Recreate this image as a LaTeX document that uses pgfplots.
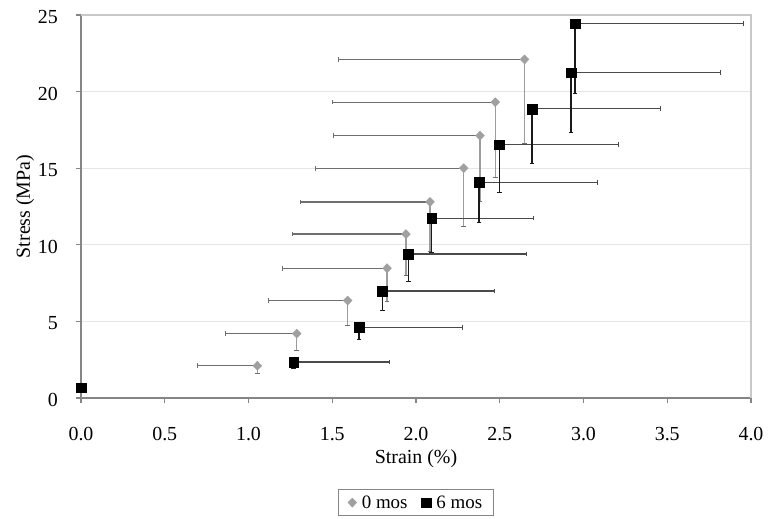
\documentclass[border=0pt]{standalone}
\usepackage{fontspec}
\setmainfont{Liberation Serif}
\usepackage{pgfplots}
\usepackage{pgfplotstable}
\pgfplotsset{compat=1.18}
\definecolor{dgray}{HTML}{A0A0A0}
\definecolor{dxbar}{HTML}{6E6E6E}
\definecolor{dybar}{HTML}{9C9C9C}
\definecolor{sxbar}{HTML}{4A4A4A}
\definecolor{sybar}{HTML}{1A1A1A}
\definecolor{axisgray}{HTML}{858585}
\definecolor{framegray}{HTML}{C8C8C8}
\definecolor{gridgray}{HTML}{E6E6E6}

% strain, stress, strain error, stress error
\pgfplotstableread{
x      y      ex     ey
1.053  2.11   0.359  0.50
1.288  4.20   0.426  1.08
1.592  6.36   0.474  1.63
1.827  8.47   0.625  2.15
1.940  10.70  0.680  2.73
2.084  12.80  0.774  3.25
2.285  15.00  0.885  3.82
2.382  17.13  0.872  4.33
2.473  19.31  0.973  4.93
2.648  22.10  1.108  5.52
}\zeromos
\pgfplotstableread{
x      y      ex     ey
0.000  0.67   0.000  0.00
1.270  2.35   0.570  0.43
1.660  4.62   0.615  0.83
1.800  6.99   0.666  1.30
1.954  9.40   0.706  1.80
2.094  11.74  0.606  2.22
2.376  14.08  0.707  2.60
2.497  16.54  0.713  3.10
2.692  18.88  0.768  3.55
2.925  21.24  0.890  3.94
2.950  24.44  1.004  4.59
}\sixmos

\begin{document}
\begin{tikzpicture}
% fix the page to the reference's 768 x 519 frame around the 670 x 383 plot area
\path[use as bounding box] (-81bp,-121bp) rectangle (687bp,398bp);
\begin{axis}[
  at={(0,0)}, anchor=south west,
  scale only axis,
  width=670bp, height=383bp,
  xmin=0, xmax=4, ymin=0, ymax=25,
  xtick={0,0.5,...,4}, ytick={0,5,...,25},
  axis lines*=left,
  axis line style={draw=axisgray, line width=1.3bp},
  tick style={draw=axisgray, line width=1.1bp},
  tick align=outside, major tick length=5bp,
  ymajorgrids, grid style={draw=gridgray, line width=0.8bp},
  /pgf/number format/assume math mode=true,
  tick label style={font=\rmfamily\fontsize{20}{22}\selectfont, inner sep=0pt},
  xticklabel style={anchor=center, yshift=-31bp,
    /pgf/number format/.cd, fixed, fixed zerofill, precision=1},
  yticklabel style={anchor=east, xshift=-18bp, yshift=-2bp},
  xlabel={Strain (\%)}, ylabel={Stress (MPa)},
  every axis x label/.style={at={(axis description cs:0.5,-0.159)}, anchor=center,
    font=\rmfamily\fontsize{20}{22}\selectfont},
  every axis y label/.style={at={(axis description cs:-0.0836,0.5)}, anchor=center, rotate=90,
    font=\rmfamily\fontsize{20}{22}\selectfont},
  legend style={font=\rmfamily\fontsize{19}{21}\selectfont, draw=axisgray, line width=0.8bp,
    at={(axis description cs:0.5,-0.238)}, anchor=north, legend columns=2,
    inner ysep=4bp, inner xsep=9bp,
    /tikz/every odd column/.append style={column sep=3bp},
    /tikz/every even column/.append style={column sep=12bp}},
  legend cell align=left,
  clip=false,
]
% 0 mos: error bars to the left and down
\addplot[forget plot, draw=none, mark=none,
  error bars/.cd, x dir=minus, x explicit,
  error bar style={draw=dxbar, line width=1.2bp},
  error mark options={rotate=90, draw=dxbar, mark size=2.3bp, line width=1bp}]
  table[x=x, y=y, x error=ex] {\zeromos};
\addplot[forget plot, draw=none, mark=none,
  error bars/.cd, y dir=minus, y explicit,
  error bar style={draw=dybar, line width=1.3bp},
  error mark options={rotate=90, draw=dxbar, mark size=2.3bp, line width=1bp}]
  table[x=x, y=y, y error=ey] {\zeromos};
\addplot[only marks, mark=diamond*, mark size=4.6bp,
  mark options={draw=dgray, fill=dgray, line width=0.3bp, xscale=1.3}]
  table[x=x, y=y] {\zeromos};
\addlegendentry{0 mos}
% 6 mos: error bars to the right and down
\addplot[forget plot, draw=none, mark=none,
  error bars/.cd, x dir=plus, x explicit,
  error bar style={draw=sxbar, line width=1.2bp},
  error mark options={rotate=90, draw=sxbar, mark size=2.3bp, line width=1bp}]
  table[x=x, y=y, x error=ex] {\sixmos};
\addplot[forget plot, draw=none, mark=none,
  error bars/.cd, y dir=minus, y explicit,
  error bar style={draw=sybar, line width=1.3bp},
  error mark options={rotate=90, draw=sybar, mark size=2.3bp, line width=1bp}]
  table[x=x, y=y, y error=ey] {\sixmos};
\addplot[only marks, mark=square*, mark size=4.9bp,
  mark options={draw=black, fill=black, line width=0.3bp}]
  table[x=x, y=y] {\sixmos};
\addlegendentry{6 mos}
\draw[framegray, line width=1.3bp] (rel axis cs:0,1) -- (rel axis cs:1,1) -- (rel axis cs:1,0);
\end{axis}
\end{tikzpicture}
\end{document}
